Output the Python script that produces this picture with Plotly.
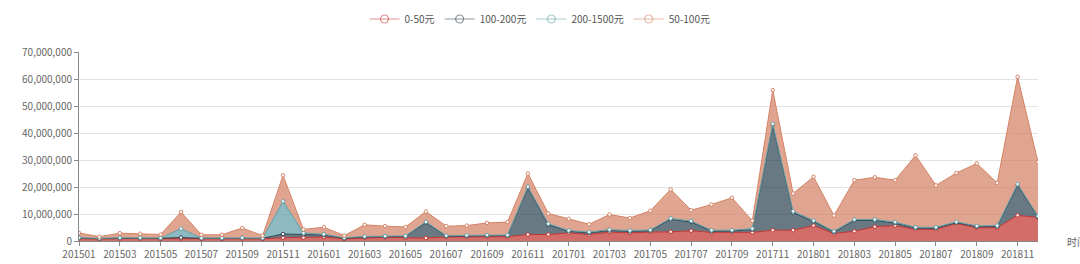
import plotly.graph_objects as go

months = [f"{y}{m:02d}" for y in (2015, 2016, 2017, 2018) for m in range(1, 13)]
tick_labels = months[::2]

# values in millions
s_0_50 = [0.9, 0.7, 0.9, 0.9, 0.8, 0.9, 0.8, 0.8, 0.9, 0.8, 1.2, 1.3,
          1.5, 0.8, 1.2, 1.4, 1.2, 1.1, 1.5, 1.6, 1.6, 1.6, 2.4, 2.4,
          3.0, 2.4, 3.3, 3.0, 3.3, 3.4, 3.8, 3.2, 3.2, 3.2, 4.0, 4.0,
          5.7, 2.8, 3.6, 5.3, 5.7, 4.3, 4.3, 6.5, 4.9, 4.9, 9.5, 8.7]
s_100_200 = [0.2, 0.2, 0.2, 0.2, 0.2, 0.4, 0.2, 0.2, 0.2, 0.2, 1.4, 1.2,
             0.7, 0.2, 0.3, 0.2, 0.5, 5.7, 0.3, 0.3, 0.4, 0.4, 17.3, 3.6,
             0.6, 0.6, 0.6, 0.6, 0.5, 4.6, 3.2, 0.5, 0.5, 1.0, 38.8, 6.5,
             1.5, 0.5, 4.0, 2.3, 0.9, 0.5, 0.5, 0.3, 0.4, 0.5, 11.2, 0.2]
s_200_1500 = [0.1, 0.1, 0.1, 0.1, 0.1, 3.3, 0.1, 0.1, 0.1, 0.1, 12.1, 0.5,
              0.3, 0.2, 0.2, 0.2, 0.2, 0.3, 0.2, 0.2, 0.2, 0.2, 0.4, 0.4,
              0.3, 0.3, 0.3, 0.3, 0.3, 0.4, 0.4, 0.3, 0.3, 0.4, 0.6, 0.5,
              0.4, 0.3, 0.4, 0.4, 0.4, 0.3, 0.3, 0.3, 0.3, 0.3, 0.4, 0.3]
s_50_100 = [1.8, 0.6, 1.7, 1.5, 1.3, 6.1, 1.2, 1.2, 3.6, 0.9, 9.6, 1.3,
            2.6, 0.8, 4.3, 3.7, 3.3, 3.8, 3.5, 3.6, 4.5, 4.8, 4.9, 3.8,
            4.3, 2.9, 5.6, 4.6, 7.1, 10.7, 4.0, 9.5, 12.0, 2.9, 12.5, 6.6,
            16.2, 5.8, 14.5, 15.6, 15.5, 26.6, 15.5, 18.1, 23.1, 15.8, 39.7, 20.0]

series = [
    ("0-50元", s_0_50, (194, 53, 49)),
    ("100-200元", s_100_200, (47, 69, 84)),
    ("200-1500元", s_200_1500, (97, 160, 168)),
    ("50-100元", s_50_100, (212, 130, 101)),
]

FONT = "Noto Sans CJK SC, Microsoft YaHei, sans-serif"
fig = go.Figure()
for name, vals, (r, g, b) in series:
    col = f"rgb({r},{g},{b})"
    fig.add_trace(go.Scatter(
        x=months, y=[v * 1e6 for v in vals], name=name, stackgroup="one",
        mode="lines+markers",
        line=dict(color=col, width=1),
        fillcolor=f"rgba({r},{g},{b},0.72)",
        marker=dict(symbol="circle", size=3.5, color="white", line=dict(color=col, width=1)),
        showlegend=False,
    ))
for name, vals, (r, g, b) in series:
    col = f"rgba({r},{g},{b},0.55)"
    fig.add_trace(go.Scatter(
        x=[None], y=[None], name=name, mode="lines+markers",
        line=dict(color=col, width=1.2),
        marker=dict(symbol="circle-open", size=8, color=col, line=dict(width=1.2)),
        showlegend=True,
    ))

fig.update_layout(
    width=1080, height=264,
    margin=dict(l=79, r=42, t=52, b=23, autoexpand=False),
    plot_bgcolor="white", paper_bgcolor="white",
    font=dict(family=FONT, size=10, color="#666"),
    legend=dict(orientation="h", x=0.5, xanchor="center", xref="container",
                y=1 - 19 / 264, yanchor="middle", yref="container",
                traceorder="normal",
                font=dict(size=10, color="#555"), itemwidth=30,
                bgcolor="rgba(0,0,0,0)"),
    xaxis=dict(type="category", categoryorder="array", categoryarray=months,
               range=[0, len(months) - 1], tickmode="array",
               tickvals=tick_labels, ticktext=tick_labels, automargin=False,
               showgrid=False, showline=True, linecolor="#888", linewidth=1,
               ticks="outside", ticklen=4, tickcolor="#888",
               tickfont=dict(size=10, color="#666")),
    yaxis=dict(range=[0, 70e6], dtick=10e6, tickformat=",d", automargin=False,
               showgrid=True, gridcolor="#e3e3e3", gridwidth=1,
               showline=True, linecolor="#888", linewidth=1,
               ticks="outside", ticklen=4, tickcolor="#888",
               zeroline=False, tickfont=dict(size=10, color="#666")),
)
fig.add_annotation(text="时间", xref="paper", yref="paper", x=1.028, y=0,
                   xanchor="left", yanchor="middle", showarrow=False,
                   font=dict(size=10, color="#666"))

fig.write_html("out.html")
